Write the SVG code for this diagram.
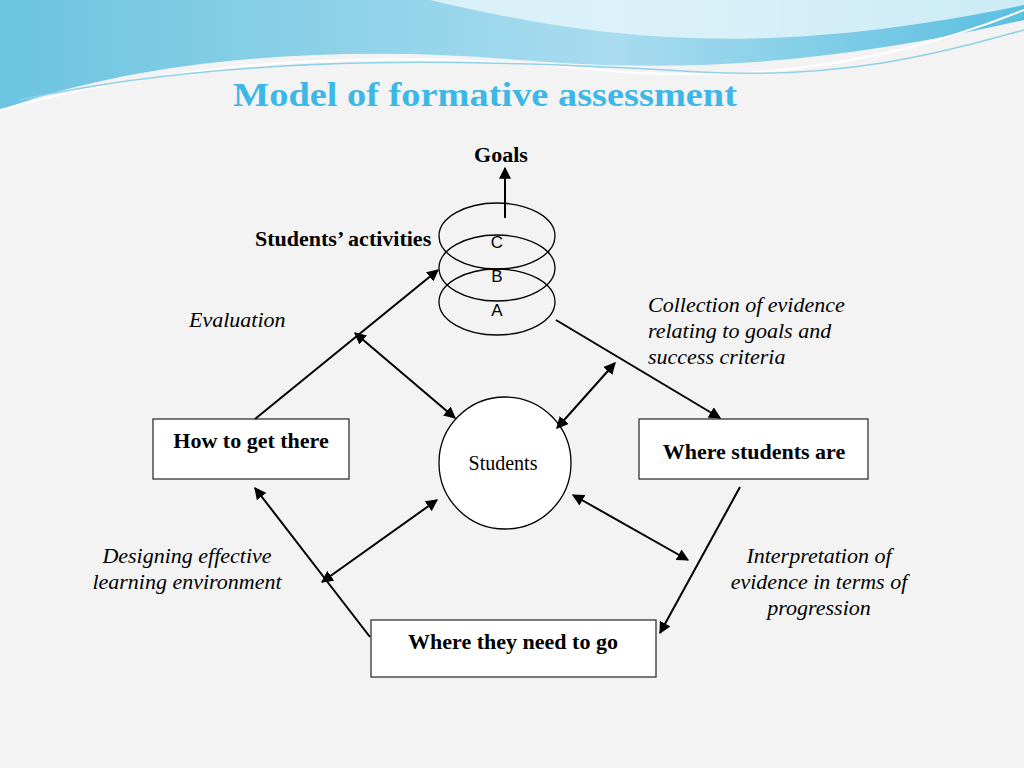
<svg xmlns="http://www.w3.org/2000/svg" width="1024" height="768" viewBox="0 0 1024 768">
<style>
.b{font-family:"Liberation Serif",serif;font-weight:bold;font-size:22px;fill:#000}
.i{font-family:"Liberation Serif",serif;font-style:italic;font-size:22px;fill:#000}
.s{font-family:"Liberation Sans",sans-serif;font-size:17px;fill:#000}
.box{fill:#fff;stroke:#333;stroke-width:1.3}
.ln{stroke:#000;stroke-width:2;fill:none}
</style>
<defs>
<marker id="ah" viewBox="0 0 10 10" refX="9" refY="5" markerWidth="6" markerHeight="6" orient="auto-start-reverse"><path d="M0,0L10,5L0,10z" fill="#000"/></marker>
<linearGradient id="hg" x1="0" y1="0" x2="1" y2="0"><stop offset="0" stop-color="#6cc4e0"/><stop offset="0.6" stop-color="#a9dcef"/><stop offset="1" stop-color="#5bbfe0"/></linearGradient>
</defs>
<rect width="1024" height="768" fill="#f3f3f3"/>
<path d="M0,0H1024V20C850,60 700,75 520,60C350,45 150,55 0,110Z" fill="url(#hg)"/>
<path d="M430,0C600,40 760,60 1024,5V0Z" fill="#e8f6fb" opacity="0.8"/>
<path d="M0,110C200,55 400,50 600,70C760,85 900,60 1024,10" stroke="#fff" stroke-width="2" fill="none"/>
<path d="M20,100C250,50 500,60 700,72C850,80 950,50 1024,30" stroke="#8fd0ea" stroke-width="1.5" fill="none"/>
<text x="233" y="106" textLength="504" lengthAdjust="spacingAndGlyphs" style="font-family:'Liberation Serif',serif;font-weight:bold;font-size:34px;fill:#3db8e6">Model of  formative assessment</text>
<g id="goals"><text class="b" x="501" y="162" text-anchor="middle">Goals</text></g>
<g id="activities"><text class="b" x="255" y="246">Students’ activities</text></g>
<g id="ellC"><ellipse cx="497" cy="236" rx="58" ry="33" fill="none" stroke="#000" stroke-width="1.3"/><text class="s" x="497" y="248" text-anchor="middle">C</text></g>
<g id="ellB"><ellipse cx="497" cy="268" rx="58" ry="33" fill="none" stroke="#000" stroke-width="1.3"/><text class="s" x="497" y="282" text-anchor="middle">B</text></g>
<g id="ellA"><ellipse cx="497" cy="302" rx="58" ry="33" fill="none" stroke="#000" stroke-width="1.3"/><text class="s" x="497" y="316" text-anchor="middle">A</text></g>
<g id="howto"><rect class="box" x="153" y="419" width="196" height="60"/><text class="b" x="251" y="448" text-anchor="middle">How to get there</text></g>
<g id="where"><rect class="box" x="639" y="419" width="229" height="60"/><text class="b" x="754" y="459" text-anchor="middle">Where students are</text></g>
<g id="need"><rect class="box" x="371" y="620" width="285" height="57"/><text class="b" x="513" y="649" text-anchor="middle">Where they need to go</text></g>
<g id="students"><circle cx="505" cy="463" r="66" fill="#fff" stroke="#000" stroke-width="1.3"/><text x="503" y="470" text-anchor="middle" style="font-family:'Liberation Serif',serif;font-size:20px">Students</text></g>
<g id="labels">
<text class="i" x="189" y="327">Evaluation</text>
<text class="i" x="648" y="312">Collection of evidence</text>
<text class="i" x="648" y="338">relating to goals and</text>
<text class="i" x="648" y="364">success criteria</text>
<text class="i" x="187" y="563" text-anchor="middle">Designing effective</text>
<text class="i" x="187" y="589" text-anchor="middle">learning environment</text>
<text class="i" x="819" y="563" text-anchor="middle">Interpretation of</text>
<text class="i" x="819" y="589" text-anchor="middle">evidence in terms of</text>
<text class="i" x="819" y="615" text-anchor="middle">progression</text>
</g>
<g id="connectors" class="ln">
<line class="ln" x1="505" y1="218" x2="505" y2="168" marker-end="url(#ah)"/>
<line class="ln" x1="255" y1="419" x2="438" y2="270" marker-end="url(#ah)"/>
<line class="ln" x1="355" y1="333" x2="455" y2="418" marker-start="url(#ah)" marker-end="url(#ah)"/>
<line class="ln" x1="556" y1="320" x2="720" y2="418" marker-end="url(#ah)"/>
<line class="ln" x1="557" y1="428" x2="615" y2="363" marker-start="url(#ah)" marker-end="url(#ah)"/>
<line class="ln" x1="740" y1="487" x2="660" y2="633" marker-end="url(#ah)"/>
<line class="ln" x1="573" y1="495" x2="688" y2="560" marker-start="url(#ah)" marker-end="url(#ah)"/>
<line class="ln" x1="370" y1="637" x2="255" y2="488" marker-end="url(#ah)"/>
<line class="ln" x1="322" y1="582" x2="437" y2="500" marker-start="url(#ah)" marker-end="url(#ah)"/>
</g>
</svg>
